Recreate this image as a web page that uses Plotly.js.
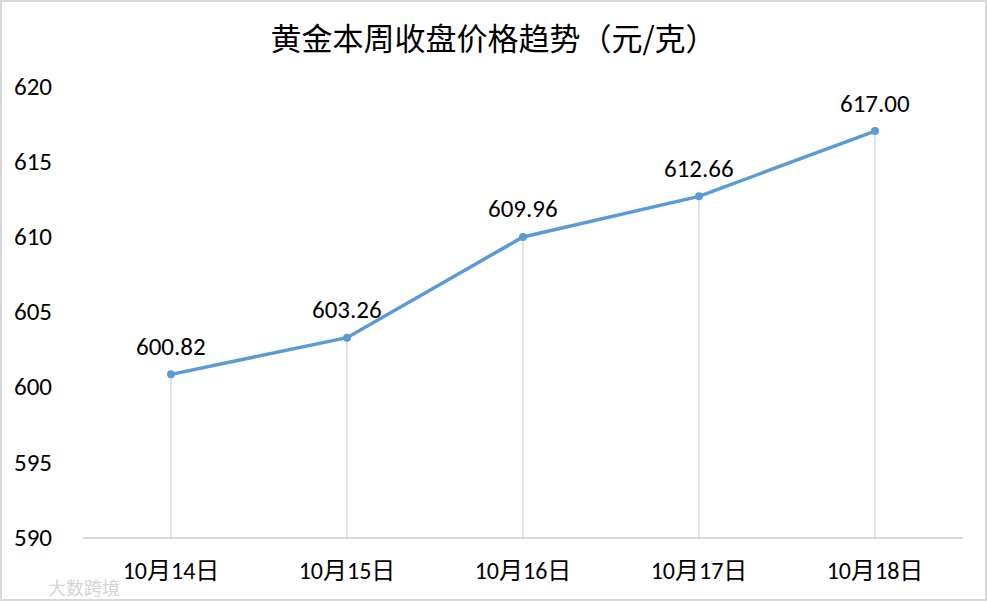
<!DOCTYPE html>
<html><head><meta charset="utf-8">
<script src="https://cdn.plot.ly/plotly-3.0.1.min.js"></script>
<style>html,body{margin:0;padding:0;background:#fff}#c{width:987px;height:601px;box-sizing:border-box;border:2px solid #d9d9d9}</style>
</head><body><div id="c"></div>
<script>
const categories = ["10月14日","10月15日","10月16日","10月17日","10月18日"];
const prices = [600.82, 603.26, 609.96, 612.66, 617.00];
const labels = ["600.82","603.26","609.96","612.66","617.00"];
const yMin = 590, yMax = 620;
const numFont = "Carlito, Calibri, 'Noto Sans CJK SC', sans-serif";
const cjkFont = "'Noto Sans CJK SC', sans-serif";
const trace = {
  x: categories, y: prices, type: 'scatter', mode: 'lines+markers',
  line: {color: '#5b9bd5', width: 3.5},
  marker: {color: '#5b9bd5', size: 8},
  error_y: {type: 'data', symmetric: false, array: prices.map(() => 0),
    arrayminus: prices.map(v => v - yMin), color: '#d9d9d9', thickness: 1.5, width: 0},
  cliponaxis: false, hoverinfo: 'none'
};
const valueAnns = categories.map((c, i) => ({
  x: c, y: prices[i], xref: 'x', yref: 'y', text: labels[i], showarrow: false,
  yanchor: 'middle', yshift: 28, font: {size: 25, color: '#000', family: numFont}
}));
const layout = {
  width: 983, height: 597,
  margin: {l: 81, r: 22, t: 84, b: 62},
  paper_bgcolor: '#fff', plot_bgcolor: '#fff',
  title: {text: '黄金本周收盘价格趋势（元/克）', x: 0.5, xanchor: 'center', y: 0.938, yanchor: 'middle',
    font: {size: 31, color: '#000', family: cjkFont}},
  xaxis: {type: 'category', range: [-0.5, 4.5], showgrid: false, zeroline: false, showline: true, linecolor: '#d9d9d9', linewidth: 1.5,
    ticks: '', tickfont: {size: 24, color: '#000', family: numFont}, ticklabelstandoff: 12},
  yaxis: {range: [yMin, yMax], dtick: 5, showgrid: false, zeroline: false, showline: false, ticks: '',
    tickfont: {size: 25, color: '#000', family: numFont}, ticklabelstandoff: 30},
  showlegend: false,
  annotations: valueAnns.concat([{text: '大数跨境', xref: 'paper', yref: 'paper', x: -0.042, y: -0.11, xanchor: 'left', yanchor: 'middle',
    showarrow: false, font: {size: 18, color: '#d4d4d4', family: cjkFont}}])
};
Plotly.newPlot('c', [trace], layout, {displayModeBar: false, staticPlot: true});
</script></body></html>
